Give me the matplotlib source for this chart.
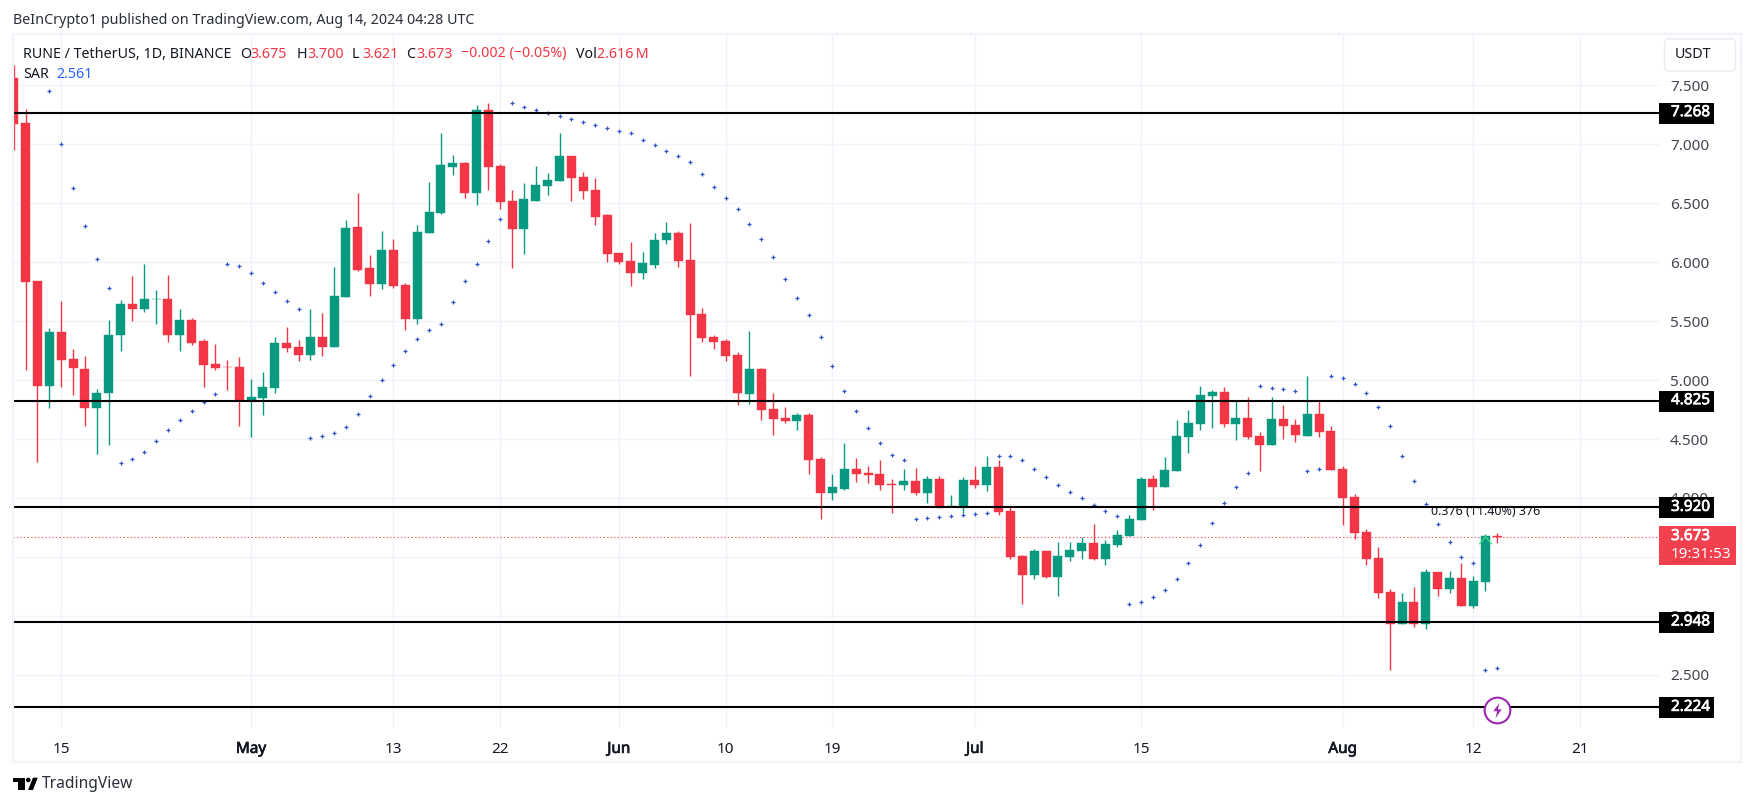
import numpy as np
import pandas as pd
import matplotlib
matplotlib.use('Agg')
import matplotlib.pyplot as plt
import matplotlib.dates as mdates
import matplotlib.patheffects as pe
from matplotlib.patches import Rectangle, FancyBboxPatch, PathPatch, Circle
from matplotlib.path import Path

# Daily candles, 2024-04-11 to 2024-08-14
start_date = '2024-04-11'
opens = [7.562, 7.18, 5.84, 4.946, 5.41, 5.18, 5.096, 4.76, 4.887, 5.378,
         5.647, 5.604, 5.684, 5.69, 5.384, 5.511, 5.333, 5.138, 5.113, 5.113,
         4.833, 4.85, 4.935, 5.316, 5.282, 5.215, 5.367, 5.282, 5.706, 6.30,
         5.952, 5.816, 6.104, 5.808, 5.52, 6.249, 6.418, 6.808, 6.842, 6.588,
         7.291, 6.816, 6.52, 6.282, 6.517, 6.647, 6.689, 6.90, 6.723, 6.613,
         6.40, 6.078, 6.01, 5.908, 5.976, 6.188, 6.248, 6.018, 5.561, 5.366,
         5.332, 5.213, 4.882, 5.094, 4.755, 4.678, 4.652, 4.703, 4.33, 4.042,
         4.076, 4.245, 4.211, 4.203, 4.118, 4.11, 4.143, 4.042, 4.16, 3.923,
         3.923, 4.152, 4.11, 4.262, 3.889, 3.507, 3.346, 3.55, 3.33, 3.499,
         3.55, 3.618, 3.482, 3.6, 3.677, 3.813, 4.16, 4.093, 4.228, 4.517,
         4.627, 4.864, 4.898, 4.627, 4.678, 4.525, 4.449, 4.669, 4.618, 4.525,
         4.712, 4.567, 4.245, 4.008, 3.711, 3.49, 3.202, 2.931, 3.118, 2.931,
         3.372, 3.227, 3.321, 3.083, 3.287, 3.675]
highs = [7.67, 7.30, 5.84, 5.44, 5.672, 5.265, 5.206, 4.924, 5.508, 5.68,
         5.884, 5.986, 5.766, 5.893, 5.604, 5.525, 5.347, 5.308, 5.172, 5.198,
         5.011, 5.07, 5.367, 5.452, 5.342, 5.604, 5.57, 5.96, 6.359, 6.588,
         6.062, 6.265, 6.198, 5.825, 6.316, 6.68, 7.096, 6.91, 6.85, 7.333,
         7.35, 6.833, 6.613, 6.672, 6.816, 6.757, 7.096, 6.90, 6.766, 6.715,
         6.41, 6.078, 6.17, 6.087, 6.248, 6.341, 6.265, 6.332, 5.612, 5.383,
         5.35, 5.238, 5.416, 5.103, 4.89, 4.771, 4.72, 4.72, 4.347, 4.203,
         4.466, 4.338, 4.27, 4.322, 4.16, 4.245, 4.254, 4.186, 4.186, 4.025,
         4.177, 4.27, 4.355, 4.322, 3.931, 3.516, 3.567, 3.55, 3.626, 3.626,
         3.668, 3.779, 3.643, 3.728, 3.855, 4.177, 4.194, 4.347, 4.661, 4.746,
         4.949, 4.915, 4.941, 4.83, 4.856, 4.559, 4.856, 4.788, 4.669, 5.034,
         4.822, 4.61, 4.27, 4.034, 3.736, 3.584, 3.228, 3.194, 3.244, 3.397,
         3.372, 3.38, 3.448, 3.338, 3.694, 3.70]
lows = [6.952, 5.082, 4.302, 4.76, 4.94, 4.87, 4.607, 4.37, 4.446, 5.243,
        5.50, 5.58, 5.472, 5.325, 5.243, 5.294, 4.938, 5.087, 4.912, 4.613,
        4.514, 4.70, 4.887, 5.24, 5.164, 5.172, 5.206, 5.282, 5.706, 5.927,
        5.715, 5.774, 5.782, 5.426, 5.477, 6.249, 6.41, 6.74, 6.545, 6.486,
        6.613, 6.452, 5.952, 6.07, 6.517, 6.57, 6.689, 6.52, 6.537, 6.316,
        6.0, 5.985, 5.798, 5.857, 5.95, 6.154, 5.96, 5.035, 5.323, 5.264,
        5.162, 4.789, 4.797, 4.662, 4.53, 4.635, 4.576, 4.203, 3.821, 3.982,
        4.067, 4.135, 4.126, 4.067, 3.872, 4.067, 4.025, 3.957, 3.914, 3.923,
        3.872, 4.084, 4.059, 3.855, 3.482, 3.10, 3.312, 3.32, 3.168, 3.465,
        3.482, 3.473, 3.431, 3.584, 3.677, 3.813, 3.897, 4.093, 4.228, 4.381,
        4.576, 4.593, 4.601, 4.491, 4.5, 4.228, 4.449, 4.5, 4.474, 4.525,
        4.517, 4.237, 3.77, 3.652, 3.431, 3.151, 2.541, 2.931, 2.905, 2.888,
        3.168, 3.194, 3.083, 3.066, 3.21, 3.621]
closes = [7.172, 5.833, 4.946, 5.41, 5.167, 5.10, 4.76, 4.893, 5.384, 5.647,
          5.604, 5.69, 5.69, 5.384, 5.511, 5.316, 5.13, 5.104, 5.107, 4.833,
          4.859, 4.943, 5.316, 5.274, 5.215, 5.367, 5.282, 5.715, 6.291, 5.935,
          5.816, 6.104, 5.80, 5.52, 6.257, 6.426, 6.825, 6.842, 6.588, 7.291,
          6.808, 6.511, 6.282, 6.537, 6.655, 6.698, 6.90, 6.715, 6.605, 6.384,
          6.07, 6.0, 5.908, 5.993, 6.188, 6.248, 6.01, 5.552, 5.357, 5.323,
          5.204, 4.89, 5.094, 4.746, 4.67, 4.652, 4.703, 4.322, 4.042, 4.093,
          4.245, 4.203, 4.194, 4.11, 4.112, 4.143, 4.042, 4.16, 3.923, 3.93,
          4.152, 4.11, 4.262, 3.88, 3.5, 3.346, 3.55, 3.33, 3.507, 3.558,
          3.618, 3.482, 3.609, 3.685, 3.821, 4.16, 4.093, 4.237, 4.525, 4.635,
          4.873, 4.898, 4.627, 4.678, 4.517, 4.449, 4.669, 4.61, 4.534, 4.712,
          4.559, 4.237, 4.0, 3.702, 3.482, 3.193, 2.931, 3.118, 2.931, 3.372,
          3.227, 3.321, 3.083, 3.295, 3.677, 3.673]

# Parabolic SAR, starts on 2024-04-14
sar_start = '2024-04-14'
sar = [7.449, 7.0, 6.627, 6.305, 6.025, 5.78,
       4.296, 4.33, 4.39, 4.483, 4.576, 4.661, 4.737, 4.813, 4.881,
       5.983, 5.966, 5.907, 5.822, 5.746, 5.669, 5.601,
       4.508, 4.525, 4.551, 4.602, 4.712, 4.864, 5.0, 5.127, 5.243, 5.347,
       5.424, 5.474, 5.66, 5.839, 5.983, 6.178, 6.364,
       7.347, 7.314, 7.288, 7.263, 7.237, 7.212, 7.186, 7.161, 7.135, 7.11,
       7.093, 7.034, 6.991, 6.94, 6.898, 6.847, 6.745, 6.635, 6.542, 6.449,
       6.321, 6.194, 6.041, 5.855, 5.694, 5.55, 5.363, 5.117, 4.905, 4.735,
       4.591, 4.463, 4.361, 4.319,
       3.818, 3.827, 3.835, 3.844, 3.852, 3.861, 3.869,
       4.353, 4.353, 4.319, 4.242, 4.175, 4.107, 4.047, 3.996, 3.937, 3.886, 3.844,
       3.097, 3.114, 3.157, 3.216, 3.309, 3.445, 3.598, 3.784, 3.954, 4.09, 4.208,
       4.949, 4.932, 4.924, 4.907,
       4.225, 4.242,
       5.031, 5.014, 4.963, 4.887, 4.768, 4.607, 4.353, 4.141, 3.946, 3.776,
       3.623, 3.496, 3.445,
       2.538, 2.555]

levels = [7.268, 4.825, 3.920, 2.948, 2.224]
last_price = 3.673
y_ticks = [2.5, 3.0, 3.5, 4.0, 4.5, 5.0, 5.5, 6.0, 6.5, 7.0, 7.5]
x_tick_dates = ['2024-04-15', '2024-05-01', '2024-05-13', '2024-05-22', '2024-06-01', '2024-06-10',
                '2024-06-19', '2024-07-01', '2024-07-15', '2024-08-01', '2024-08-12', '2024-08-21']
x_tick_labels = ['15', 'May', '13', '22', 'Jun', '10', '19', 'Jul', '15', 'Aug', '12', '21']

RED = '#F23645'
GREEN = '#089981'
DARK = '#131722'
GRID = '#F0F3FA'
FONT = 'Noto Sans'
LEGEND_SIZE = 10.25
W, H = 1754, 806

plt.rcParams['font.family'] = FONT


# Put text using pixel coordinates of the figure
def px_text(x, y, s, **kw):
    kw.setdefault('va', 'center')
    kw.setdefault('color', DARK)
    kw.setdefault('fontsize', LEGEND_SIZE)
    return fig.text(x / W, 1 - y / H, s, **kw)


fig = plt.figure(figsize=(W / 100, H / 100), dpi=100, facecolor='white')

# Pane is 13..1659 across and 34..728 down
ax = fig.add_axes([13 / W, 1 - 728 / H, 1646 / W, 694 / H])
for s in ax.spines.values():
    s.set_visible(False)

dates = pd.date_range(start_date, periods=len(opens), freq='D')
sar_dates = pd.date_range(sar_start, periods=len(sar), freq='D')
x = mdates.date2num(dates)
x_sar = mdates.date2num(sar_dates)
o = np.array(opens)
h = np.array(highs)
l = np.array(lows)
c = np.array(closes)
colors = np.where(c >= o, GREEN, RED)

ax.vlines(x, l, h, colors=colors, lw=1.0, zorder=3)
ax.bar(x, c - o, bottom=o, width=0.76, color=colors, edgecolor=colors, lw=0.3, zorder=4)
ax.plot(x_sar, sar, ls='none', marker='+', ms=3.0, mew=0.9, color='#2F55C4', zorder=5)

# Small green chevron on the last full candle
chevron = Path([(-1, -0.6), (0, 0.6), (1, -0.6)])
ax.plot([x[-2]], [3.64], marker=chevron, ms=9, mfc='none', mec='#3DDC84', mew=0.9, zorder=5)

# Last price dotted line
ax.axhline(last_price, color=RED, lw=0.8, ls=(0, (1, 2.2)), zorder=2)

# Measure label sits under the black levels
ax.text(x[-2], 3.881, '0.376 (11.40%) 376', ha='center', va='center', fontsize=9, color=DARK, zorder=5)

for lv in levels:
    ax.axhline(lv, color='black', lw=1.5, zorder=6)

x0 = mdates.date2num(pd.Timestamp('2024-04-15'))
ax.set_xlim(x0 - 4.06, x0 + 134.65)
ax.set_ylim(2.049, 7.935)

ax.set_xticks(mdates.date2num(pd.to_datetime(x_tick_dates)))
ax.set_xticklabels(x_tick_labels)
ax.yaxis.tick_right()
ax.set_yticks(y_ticks)
ax.set_yticklabels(['%.3f' % v for v in y_ticks])
ax.tick_params(axis='both', length=0, labelsize=11, labelcolor='#434651')
ax.tick_params(axis='x', pad=10, labelcolor=DARK)
ax.tick_params(axis='y', pad=8)
for t, s in zip(ax.get_xticklabels(), x_tick_labels):
    if s.isalpha():
        t.set_path_effects([pe.withStroke(linewidth=0.5, foreground=DARK)])
ax.grid(True, color=GRID, lw=1.0, zorder=0)
ax.set_axisbelow(True)

# Level tags on the price scale
scale_x = ax.get_yaxis_transform()
px_y = 694 / (7.935 - 2.049)
heavy = [pe.withStroke(linewidth=0.5, foreground='white')]
for lv in levels:
    ax.add_patch(Rectangle((1.0, lv - 11 / px_y), 55 / 1646, 21 / px_y, transform=scale_x, clip_on=False,
                           facecolor='black', edgecolor='none', zorder=8))
    ax.text(1 + 12 / 1646, lv, '%.3f' % lv, transform=scale_x, color='white', fontsize=11, va='center',
            ha='left', path_effects=heavy, clip_on=False, zorder=9)

# Last price tag with countdown
ax.add_patch(Rectangle((1.0, last_price - 28.5 / px_y), 77 / 1646, 39 / px_y, transform=scale_x, clip_on=False,
                       facecolor=RED, edgecolor='none', alpha=0.95, zorder=8))
ax.text(1 + 12 / 1646, last_price, '%.3f' % last_price, transform=scale_x, color='white', fontsize=11,
        va='center', ha='left', path_effects=heavy, clip_on=False, zorder=9)
ax.text(1 + 12 / 1646, last_price - 17.5 / px_y, '19:31:53', transform=scale_x, color='white', fontsize=11,
        va='center', ha='left', clip_on=False, zorder=9)

# Lightning badge
bolt = Path([(0.25, 1), (-0.55, -0.1), (-0.05, -0.1), (-0.25, -1), (0.55, 0.15), (0.05, 0.15), (0.25, 1)])
badge_x = x[-1]
ax.plot([badge_x], [2.2], marker='o', ms=18.5, mfc='white', mec='#9C27B0', mew=1.5, zorder=10, clip_on=False)
ax.plot([badge_x], [2.2], marker=bolt, ms=11, mfc='#9C27B0', mec='none', zorder=11, clip_on=False)

# Outer frame
fig.add_artist(Rectangle((12.5 / W, 1 - 762 / H), 1728.5 / W, 728 / H, transform=fig.transFigure, fill=False,
                         edgecolor=GRID, lw=1.6))

# USDT button
fig.add_artist(FancyBboxPatch((1664.5, H - 71), 71, 32, boxstyle='round,pad=0,rounding_size=4', transform=None,
                              facecolor='white', edgecolor='#E8EAF0', lw=1.0))
px_text(1675, 55, 'USDT')

# Header and legend
px_text(13, 20, 'BeInCrypto1 published on TradingView.com, Aug 14, 2024 04:28 UTC', color='#2A2E39')
px_text(23, 54, 'RUNE / TetherUS, 1D, BINANCE')
for xp, lab, val in [(240, 'O', '3.675'), (297, 'H', '3.700'), (352, 'L', '3.621'), (406, 'C', '3.673')]:
    px_text(xp, 54, lab)
    px_text(xp + 10.5, 54, val, color=RED)
px_text(461, 54, '\u22120.002 (\u22120.05%)', color=RED)
px_text(576, 54, 'Vol')
px_text(597, 54, '2.616\u2009M', color=RED)
px_text(23, 75, 'SAR')
px_text(56.5, 75, '2.561', color='#2962FF')

# TradingView logo
logo1 = Path([(13, 777.7), (25, 777.7), (25, 790), (18, 790), (18, 782), (13, 782), (13, 777.7)])
logo2 = Path([(33, 777.7), (37.7, 777.7), (33, 790), (28, 790), (33, 777.7)])
tr = matplotlib.transforms.Affine2D().scale(1, -1).translate(0, H)
for p in (logo1, logo2):
    fig.add_artist(PathPatch(p, transform=tr, facecolor='black', edgecolor='none'))
fig.add_artist(Circle((28.3, 780), 2.3, transform=tr, facecolor='black', edgecolor='none'))
px_text(42, 784, 'TradingView', fontsize=11.2, color='#2A2E39')

fig.savefig('out.png', dpi=100, facecolor='white')
